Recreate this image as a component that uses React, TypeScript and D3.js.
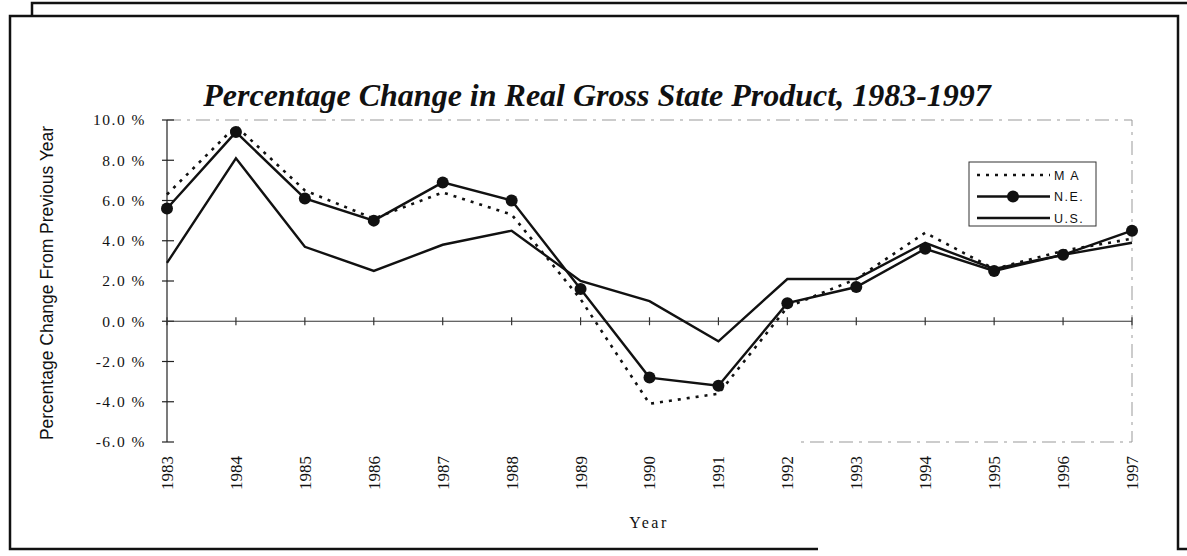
import React from 'react';
import * as d3 from 'd3';

const years = [1983, 1984, 1985, 1986, 1987, 1988, 1989, 1990, 1991, 1992, 1993, 1994, 1995, 1996, 1997];
const ma = [6.3, 9.7, 6.5, 5.1, 6.4, 5.3, 1.1, -4.1, -3.6, 0.7, 2.1, 4.4, 2.6, 3.5, 4.1];
const ne = [5.6, 9.4, 6.1, 5.0, 6.9, 6.0, 1.6, -2.8, -3.2, 0.9, 1.7, 3.6, 2.5, 3.3, 4.5];
const us = [2.9, 8.1, 3.7, 2.5, 3.8, 4.5, 2.0, 1.0, -1.0, 2.1, 2.1, 3.9, 2.6, 3.3, 3.9];
const yTicks = [10, 8, 6, 4, 2, 0, -2, -4, -6];
const legendItems = ['M A', 'N.E.', 'U.S.'];

const W = 1187;
const H = 556;
const serif = '"Liberation Serif", "Times New Roman", serif';
const sans = '"Liberation Sans", Arial, sans-serif';

export default function App() {
  const x = d3.scaleLinear().domain([1983, 1997]).range([167, 1132]);
  const y = d3.scaleLinear().domain([-6, 10]).range([442, 120]);

  const line = (vals: number[]) =>
    d3.line<number>()
      .x((_, i) => x(years[i]))
      .y(d => y(d))(vals) || '';

  const [x0, x1] = x.range();
  const [yb, yt] = y.range();

  return (
    <div style={{ position: 'fixed', left: 0, top: 0 }}>
      <svg width={W} height={H} style={{ display: 'block', background: '#fff' }}>
        <defs>
          <clipPath id="ytitle-clip">
            <rect x={0} y={121} width={120} height={400} />
          </clipPath>
        </defs>

        {/* back frame */}
        <path d="M32,16 L32,3 L1187,3" fill="none" stroke="#111" strokeWidth={2.5} />
        {/* front frame (bottom partly missing as in the scan) */}
        <path d="M818,549 L10,549 L10,16 L1178,16 L1178,549 L1187,549" fill="none" stroke="#111" strokeWidth={2.5} />

        {/* title */}
        <text x={597} y={106} textAnchor="middle" fontFamily={serif} fontStyle="italic" fontWeight="bold" fontSize={32} fill="#111">
          Percentage Change in Real Gross State Product, 1983-1997
        </text>

        {/* faint plot border */}
        <path d={`M${x0},${yt} L${x1},${yt} L${x1},${yb} L800,${yb}`} fill="none" stroke="#999" strokeWidth={1} strokeDasharray="14,6,3,6" />

        {/* y axis */}
        <line x1={x0} x2={x0} y1={yt} y2={yb} stroke="#222" strokeWidth={1.2} />
        {yTicks.map(t => (
          <g key={t}>
            <line x1={x0 - 5} x2={x0 + 7} y1={y(t)} y2={y(t)} stroke="#222" strokeWidth={1.2} />
            <text x={146} y={y(t)} dy="0.35em" textAnchor="end" fontFamily={serif} fontSize={15.5} letterSpacing={1.5} fill="#111">
              {`${t.toFixed(1)} %`}
            </text>
          </g>
        ))}

        {/* zero line */}
        <line x1={x0} x2={x1} y1={y(0)} y2={y(0)} stroke="#333" strokeWidth={1.2} />
        {years.map(yr => (
          <line key={yr} x1={x(yr)} x2={x(yr)} y1={y(0) - 4} y2={y(0) + 4} stroke="#333" strokeWidth={1.2} />
        ))}

        {/* year labels */}
        {years.map(yr => (
          <text key={yr} transform={`translate(${x(yr)},456) rotate(-90)`} dy="0.35em" textAnchor="end" fontFamily={serif} fontSize={17} fill="#111">
            {yr}
          </text>
        ))}

        {/* axis titles */}
        <text x={649} y={528} textAnchor="middle" fontFamily={serif} fontSize={16} letterSpacing={2.5} fill="#111">Year</text>
        <g clipPath="url(#ytitle-clip)">
          <text transform="translate(47,283) rotate(-90)" textAnchor="middle" dy="0.35em" fontFamily={sans} fontSize={17.5} fill="#111">
            Percentage Change From Previous Year
          </text>
        </g>

        {/* series */}
        <path d={line(us)} fill="none" stroke="#111" strokeWidth={2.4} />
        <path d={line(ma)} fill="none" stroke="#111" strokeWidth={2.6} strokeDasharray="3,6" />
        <path d={line(ne)} fill="none" stroke="#111" strokeWidth={2.4} />
        {ne.map((v, i) => (
          <circle key={i} cx={x(years[i])} cy={y(v)} r={6} fill="#111" />
        ))}

        {/* legend */}
        <g>
          <rect x={969} y={162} width={127} height={64} fill="#fff" stroke="#333" strokeWidth={1} />
          {legendItems.map((name, i) => {
            const ly = 175 + i * 21.5;
            return (
              <g key={name}>
                <line x1={977} x2={1050} y1={ly} y2={ly} stroke="#111" strokeWidth={2.4} strokeDasharray={i === 0 ? '3,6' : undefined} />
                {i === 1 && <circle cx={1013} cy={ly} r={6} fill="#111" />}
                <text x={1054} y={ly} dy="0.38em" fontFamily={sans} fontSize={12.5} letterSpacing={1.5} fill="#111">{name}</text>
              </g>
            );
          })}
        </g>
      </svg>
    </div>
  );
}
